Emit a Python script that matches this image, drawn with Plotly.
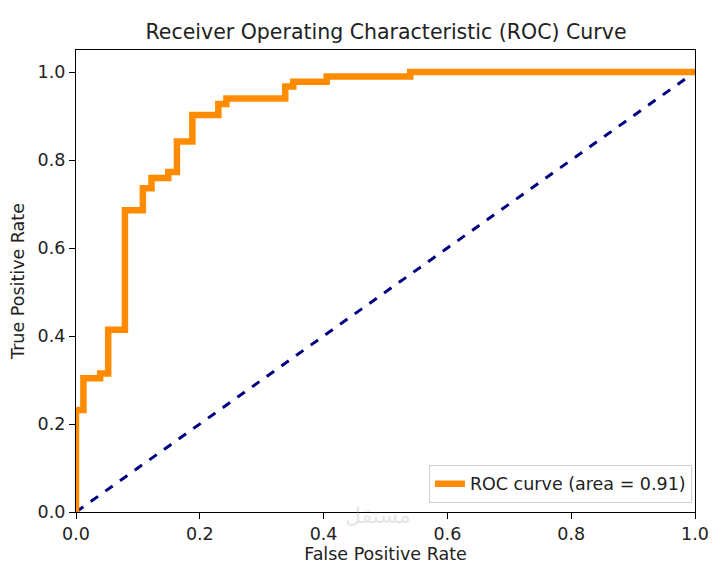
import plotly.graph_objects as go

fpr = [0.0, 0.0, 0.012, 0.012, 0.039, 0.039, 0.052, 0.052, 0.079, 0.079, 0.108, 0.108,
       0.122, 0.122, 0.149, 0.149, 0.163, 0.163, 0.188, 0.188, 0.23, 0.23, 0.243, 0.243,
       0.338, 0.338, 0.351, 0.351, 0.405, 0.405, 0.54, 0.54, 1.0]
tpr = [0.0, 0.232, 0.232, 0.304, 0.304, 0.315, 0.315, 0.414, 0.414, 0.686, 0.686, 0.736,
       0.736, 0.759, 0.759, 0.773, 0.773, 0.842, 0.842, 0.902, 0.902, 0.927, 0.927, 0.94,
       0.94, 0.967, 0.967, 0.978, 0.978, 0.99, 0.99, 1.0, 1.0]
diag_x = [0.0, 1.0]
diag_y = [0.0, 1.0]
roc_auc = 0.91
x_ticks = [0.0, 0.2, 0.4, 0.6, 0.8, 1.0]
y_ticks = [0.0, 0.2, 0.4, 0.6, 0.8, 1.0]

font = "DejaVu Sans"
fs = 17.5
W, H = 710, 564
L, R, T, B = 68, 23, 42, 60
fig = go.Figure()
fig.add_trace(go.Scatter(x=diag_x, y=diag_y, mode="lines",
                         line=dict(color="#000080", width=3, dash="dash"),
                         showlegend=False))
fig.add_trace(go.Scatter(x=fpr, y=tpr, mode="lines",
                         line=dict(color="#ff8c00", width=6.5),
                         name=f"ROC curve (area = {roc_auc:.2f})"))

axis_common = dict(showgrid=False, zeroline=False, showline=True, linecolor="black",
                   linewidth=1.3, mirror=True, ticks="outside", ticklen=6, tickwidth=1.3,
                   automargin=False,
                   tickcolor="black", tickfont=dict(family=font, size=fs, color="#222"))
fig.update_layout(
    width=W, height=H,
    margin=dict(l=L, r=R, t=T, b=B),
    paper_bgcolor="white", plot_bgcolor="white",
    title=dict(text="Receiver Operating Characteristic (ROC) Curve",
               x=(386 - 8) / W, xanchor="center", y=1 - (32 - 8) / H, yanchor="middle",
               font=dict(family=font, size=20.5, color="#222")),
    xaxis=dict(range=[0, 1], tickvals=x_ticks, ticktext=[f"{v:.1f}" for v in x_ticks],
               title=dict(text="False Positive Rate", standoff=3,
                          font=dict(family=font, size=fs, color="#222")),
               **axis_common),
    yaxis=dict(range=[0, 1.05], tickvals=y_ticks, ticktext=[f"{v:.1f}" for v in y_ticks],
               title=dict(text="True Positive Rate", standoff=8,
                          font=dict(family=font, size=fs, color="#222")),
               **axis_common),
    legend=dict(x=0.995, y=0.02, xanchor="right", yanchor="bottom",
                bgcolor="rgba(255,255,255,0.8)", bordercolor="#d0d0d0", borderwidth=1,
                font=dict(family=font, size=fs, color="#222")),
)
fig.add_annotation(text="مستقل", x=(378 - 8 - L) / (W - L - R), y=-0.04,
                   xref="paper", yref="paper",
                   showarrow=False, font=dict(family="DejaVu Sans", size=22,
                                              color="rgba(170,170,170,0.3)"))
fig.write_html("out.html")
